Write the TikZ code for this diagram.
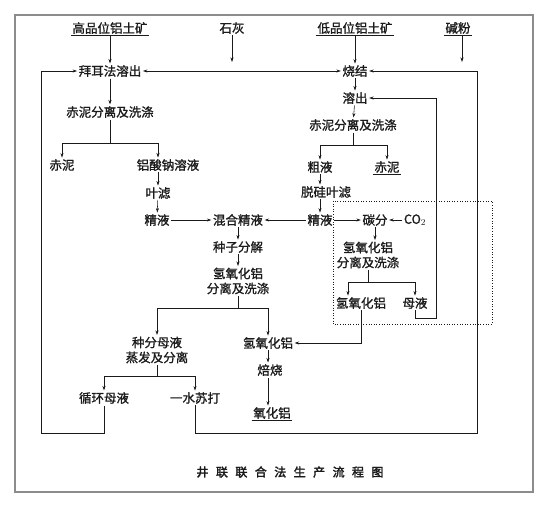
\documentclass[tikz,border=0pt]{standalone}
\usepackage{fontspec}
\newfontfamily\cjk[FakeBold=1.2]{Noto Sans CJK SC}
\newfontfamily\cjktitle[FakeBold=2.5, LetterSpace=62]{Noto Sans CJK SC}
\usetikzlibrary{arrows.meta}
\definecolor{ink}{HTML}{1A1A1A}
\definecolor{framegray}{HTML}{8C8C8C}

\begin{document}
\begin{tikzpicture}[x=1pt, y=-1pt,
  lbl/.style={font=\cjk\fontsize{12.5}{15}\selectfont, inner sep=1.5pt, align=center, text=ink},
  ul/.style={append after command={(\tikzlastnode.south west) edge[draw=ink, line width=0.6pt] (\tikzlastnode.south east)}},
  flow/.style={draw=ink, line width=0.55pt, -{Stealth[length=4.5pt, width=3pt]}},
  twoway/.style={draw=ink, line width=0.55pt, {Stealth[length=4.5pt, width=3pt]}-{Stealth[length=4.5pt, width=3pt]}},
  line/.style={draw=ink, line width=0.55pt}]

\useasboundingbox (0,0) rectangle (549,507);

% Frame
\draw[framegray, line width=2.2pt] (15,15) rectangle (533,492);

% Raw materials
\node[lbl, ul] (hiore) at (110,28) {高品位铝土矿};
\node[lbl] (lime) at (232,28) {石灰};
\node[lbl, ul] (loore) at (355,28) {低品位铝土矿};
\node[lbl, ul] (soda) at (458,28) {碱粉};

% Bayer branch
\node[lbl] (bayer) at (110,71) {拜耳法溶出};
\node[lbl] (sepA) at (110,112) {赤泥分离及洗涤};
\node[lbl] (mudA) at (62,165) {赤泥};
\node[lbl] (aluminate) at (168,165) {铝酸钠溶液};
\node[lbl] (filtA) at (158,193) {叶滤};
\node[lbl] (pureA) at (157,220) {精液};

% Sinter branch
\node[lbl] (sinter) at (355,71) {烧结};
\node[lbl] (leach) at (355,98) {溶出};
\node[lbl] (sepB) at (353,125) {赤泥分离及洗涤};
\node[lbl] (crude) at (320,167) {粗液};
\node[lbl, ul] (mudB) at (387,167) {赤泥};
\node[lbl] (filtB) at (326,192) {脱硅叶滤};
\node[lbl] (pureB) at (320,220) {精液};
\node[lbl] (carb) at (375,220) {碳分};
\node[lbl] (co2) at (415,220) {CO$_2$};
\node[lbl] (hydB) at (368,255) {氢氧化铝\\分离及洗涤};
\node[lbl] (alhydB) at (361,303) {氢氧化铝};
\node[lbl] (liquor) at (415,303) {母液};

% Mixed liquor and seeding
\node[lbl] (mixed) at (238,220) {混合精液};
\node[lbl] (seed) at (238,247) {种子分解};
\node[lbl] (hydA) at (238,281) {氢氧化铝\\分离及洗涤};
\node[lbl] (seedliq) at (157,350) {种分母液\\蒸发及分离};
\node[lbl] (recyc) at (104,398) {循环母液};
\node[lbl] (mono) at (195,398) {一水苏打};
\node[lbl] (alhydA) at (268,343) {氢氧化铝};
\node[lbl] (calc) at (270,370) {焙烧};
\node[lbl, ul] (alumina) at (272,413) {氧化铝};

% Free ends and corners
\coordinate (limeend) at (232,62);
\coordinate (sodaend) at (462,62);
\coordinate (sepAfork) at (110,143);
\coordinate (sepBfork) at (353,145);
\coordinate (hydBfork) at (368,282);
\coordinate (hydAfork) at (238,308);
\coordinate (seedfork) at (157,376);
\coordinate (recycloop) at (41,433);
\coordinate (monoloop) at (477,433);
\coordinate (liqloop) at (436,318);

% Dotted carbonation block
\draw[ink, dotted, line width=0.6pt] (333,201) rectangle (492,324);

% Feeds
\draw[flow] (hiore) -- (bayer);
\draw[flow] (lime) -- (limeend);
\draw[flow] (loore) -- (sinter);
\draw[flow] (soda.south -| sodaend) -- (sodaend);
\draw[twoway] (bayer) -- (sinter);

% Bayer line
\draw[flow] (bayer) -- (sepA);
\draw[line] (sepA) -- (sepAfork);
\draw[flow] (sepAfork) -| (mudA);
\draw[flow] (sepAfork) -| (filtA |- aluminate.north);
\draw[flow] (filtA |- aluminate.south) -- (filtA);
\draw[flow] (filtA) -- (pureA);
\draw[flow] (pureA) -- (mixed);

% Sinter line
\draw[flow] (sinter) -- (leach);
\draw[flow] (leach) -- (sepB);
\draw[line] (sepB) -- (sepBfork);
\draw[flow] (sepBfork) -| (crude);
\draw[flow] (sepBfork) -| (mudB);
\draw[flow] (crude) -- (crude |- filtB.north);
\draw[flow] (crude |- filtB.south) -- (pureB);
\draw[flow] (pureB) -- (mixed);
\draw[flow] (pureB) -- (carb);
\draw[flow] (co2) -- (carb);
\draw[flow] (carb) -- (carb |- hydB.north);
\draw[line] (hydB) -- (hydBfork);
\draw[flow] (hydBfork) -| ([xshift=-13pt]alhydB.north);
\draw[flow] (hydBfork) -| (liquor);
\draw[flow] (alhydB.south) |- (alhydA.east);
\draw[flow] (liquor.south) |- (liqloop) |- (leach.east);

% Seeded precipitation
\draw[flow] (mixed) -- (seed);
\draw[flow] (seed) -- (hydA);
\draw[line] (hydA) -- (hydAfork);
\draw[flow] (hydAfork) -| (seedliq);
\draw[flow] (hydAfork) -| (alhydA);
\draw[line] (seedliq) -- (seedfork);
\draw[flow] (seedfork) -| (recyc);
\draw[flow] (seedfork) -| (mono);
\draw[flow] (alhydA) -- (alhydA |- calc.north);
\draw[flow] (alhydA |- calc.south) -- (alhydA |- alumina.north);

% Recycle loops
\draw[flow] (recyc.south) |- (recycloop) |- (bayer.west);
\draw[flow] (mono.south) |- (monoloop) |- (sinter.east);

% Caption
\node[font=\cjktitle\fontsize{12}{12}\selectfont, text=ink] (title) at (290,472) {井联联合法生产流程图};

\end{tikzpicture}
\end{document}
